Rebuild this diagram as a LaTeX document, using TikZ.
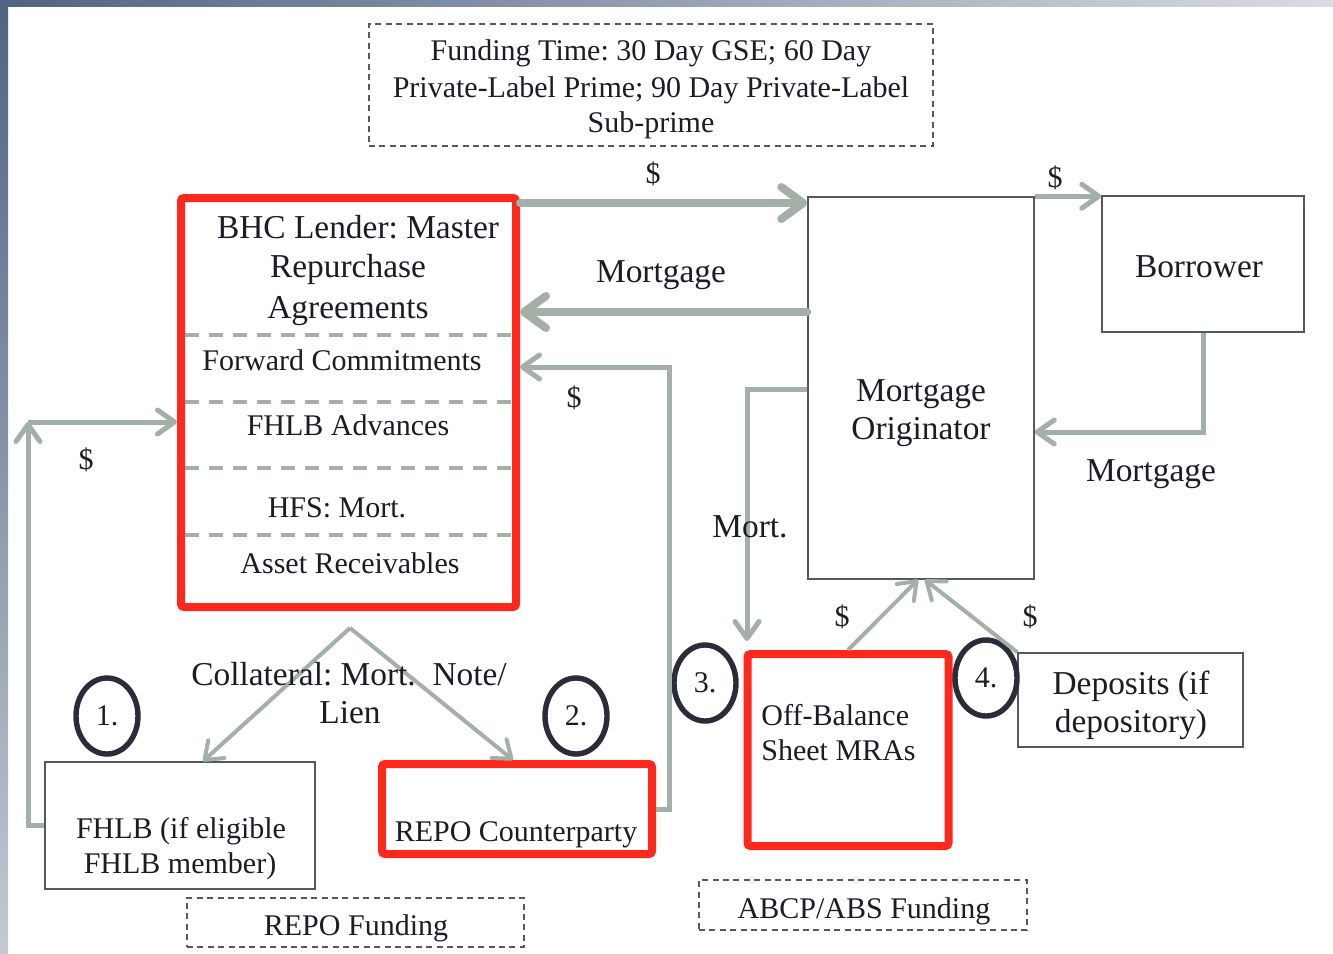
\documentclass[tikz,border=0pt]{standalone}
\usepackage{fontspec}
\setmainfont{Liberation Serif}
\usetikzlibrary{arrows.meta,shapes.geometric,shadows}
\definecolor{arrowgray}{RGB}{163,176,168}
\definecolor{boxred}{RGB}{255,40,28}
\definecolor{ringc}{RGB}{42,44,58}
\definecolor{txt}{RGB}{28,28,38}
\definecolor{edge}{RGB}{85,88,96}
\definecolor{slate}{RGB}{79,100,130}
\definecolor{slatelight}{RGB}{196,200,208}
\definecolor{slatepale}{RGB}{218,220,225}
\newcommand\myBig{\fontsize{16.7}{19}\selectfont\frenchspacing}
\newcommand\mySmall{\fontsize{15}{17.5}\selectfont\frenchspacing}
\begin{document}
\frenchspacing
\begin{tikzpicture}[x=0.5pt,y=-0.5pt,
  lbl/.style={anchor=base,inner sep=0pt,text=txt,font=\myBig},
  slbl/.style={anchor=base,inner sep=0pt,text=txt,font=\mySmall},
  plainbox/.style={draw=edge,line width=0.75pt,rectangle,inner sep=0pt},
  redbox/.style={draw=boxred,line width=4pt,rectangle,rounded corners=1.5pt,inner sep=0pt},
  dashbox/.style={draw=edge,line width=0.75pt,dash pattern=on 3pt off 2.2pt,rectangle,inner sep=0pt},
  divider/.style={draw=arrowgray,line width=2pt,dash pattern=on 7pt off 5pt},
  flowthick/.style={draw=arrowgray,line width=4pt,line cap=round,-{Straight Barb[length=11pt,width=16pt,round]}},
  flow/.style={draw=arrowgray,line width=2.5pt,-{Straight Barb[length=8.5pt,width=12pt,round]}},
  flowthin/.style={draw=arrowgray,line width=2pt,-{Straight Barb[length=8pt,width=12pt,round]}},
  ring/.style={ellipse,draw=ringc,line width=2.7pt,fill=white,minimum width=31pt,minimum height=38pt,inner sep=0pt,
    text=txt,font=\mySmall,drop shadow={shadow xshift=0.8pt,shadow yshift=-1.2pt,opacity=0.35}}
]
\useasboundingbox (0,0) rectangle (1333,953);
\fill[white] (0,0) rectangle (1333,953);
\shade[top color=slate,bottom color=slatelight] (0,0) rectangle (8,953);
\shade[left color=slate,right color=slatepale] (0,0) rectangle (1333,6);

% top dashed note
\node[dashbox,minimum width=282pt,minimum height=61pt] (note) at (651,85) {};
\node[slbl] (note1) at (651,61) {Funding Time: 30 Day GSE; 60 Day};
\node[slbl] (note2) at (651,97) {Private-Label Prime; 90 Day Private-Label};
\node[slbl] (note3) at (651,132) {Sub-prime};

% BHC lender box
\node[redbox,minimum width=167.5pt,minimum height=204.5pt] (bhc) at (348.5,402.5) {};
\foreach \yy in {335,402,468,535}{
  \draw[divider] (185,\yy) -- (516,\yy);
}
\node[lbl] (bhc1) at (358,238) {BHC Lender: Master};
\node[lbl] (bhc2) at (348,277) {Repurchase};
\node[lbl] (bhc3) at (348,318) {Agreements};
\node[slbl] (fwd) at (342,370) {Forward Commitments};
\node[slbl] (adv) at (348,435) {FHLB Advances};
\node[slbl] (hfs) at (337,517) {HFS: Mort.};
\node[slbl] (asr) at (350,573) {Asset Receivables};

% originator and borrower
\node[plainbox,minimum width=113pt,minimum height=191pt] (orig) at (921,388) {};
\node[lbl] (orig1) at (921,401) {Mortgage};
\node[lbl] (orig2) at (921,439) {Originator};
\node[plainbox,minimum width=101pt,minimum height=68pt] (bor) at (1203,264) {};
\node[lbl] (bor1) at (1199,277) {Borrower};

% lower boxes
\node[plainbox,minimum width=135pt,minimum height=63.5pt] (fhlb) at (180,825.5) {};
\node[slbl] (fhlb1) at (181,838) {FHLB (if eligible};
\node[slbl] (fhlb2) at (180,873) {FHLB member)};
\node[redbox,minimum width=135pt,minimum height=45pt] (repo) at (517,809) {};
\node[slbl] (repo1) at (516,841) {REPO Counterparty};
\node[redbox,minimum width=100.5pt,minimum height=96pt] (off) at (848,750) {};
\node[slbl,anchor=base west] (off1) at (761,725) {Off-Balance};
\node[slbl,anchor=base west] (off2) at (761,760) {Sheet MRAs};
\node[plainbox,minimum width=112.5pt,minimum height=47pt] (dep) at (1130.5,700) {};
\node[lbl] (dep1) at (1131,694) {Deposits (if};
\node[lbl] (dep2) at (1131,732) {depository)};

% funding notes
\node[dashbox,minimum width=168.5pt,minimum height=24.5pt] (repof) at (355.5,922.5) {};
\node[slbl] (repof1) at (356,935) {REPO Funding};
\node[dashbox,minimum width=164pt,minimum height=25pt] (abcp) at (863,905) {};
\node[slbl] (abcp1) at (864,918) {ABCP/ABS Funding};

% numbered rings
\node[ring] (c1) at (107,716) {1.};
\node[ring] (c2) at (576,716) {2.};
\node[ring] (c3) at (705,683) {3.};
\node[ring] (c4) at (986,678) {4.};

% connectors
\coordinate (fhlbcorner) at (28,422);
\coordinate (mortend) at (747,641);
\coordinate (apex) at (350,628);
\coordinate (repocorner) at (669,367);

\draw[flowthick] (bhc.east |- 0,203) -- (orig.west |- 0,203);
\draw[flowthick] (orig.west |- 0,312) -- (bhc.east |- 0,312);
\draw[flow] (repo.east |- 0,809) -| (repocorner) -- (bhc.east |- repocorner);
\draw[flow] (orig.north east) -- (bor.west |- orig.north east);
\draw[flow] (bor.south) |- (orig.east |- 0,432);
\draw[flow] (orig.west |- 0,389) -| (mortend);
\draw[flow] (fhlb.west |- 0,825) -| (fhlbcorner);
\draw[flow] (fhlbcorner) -- (bhc.west |- fhlbcorner);
\draw[flowthin] (apex) -- (fhlb.north -| 203,0);
\draw[flowthin] (apex) -- (repo.north -| 513,0);
\draw[flowthin] (off.north -| 848,0) -- (orig.south -| 918,0);
\draw[flowthin] (dep.north west) -- (orig.south -| 925,0);

% labels
\node[slbl] (d1) at (653,183) {\$};
\node[lbl] (m1) at (661,282) {Mortgage};
\node[slbl] (d2) at (1055,187) {\$};
\node[slbl] (d3) at (574,407) {\$};
\node[slbl] (d4) at (86,469) {\$};
\node[lbl] (m2) at (1151,481) {Mortgage};
\node[lbl] (m3) at (750,537) {Mort.};
\node[slbl] (d5) at (842,626) {\$};
\node[slbl] (d6) at (1030,626) {\$};
\node[lbl] (col1) at (349,685) {Collateral: Mort.\ \ Note/};
\node[lbl] (col2) at (350,723) {Lien};
\end{tikzpicture}
\end{document}
